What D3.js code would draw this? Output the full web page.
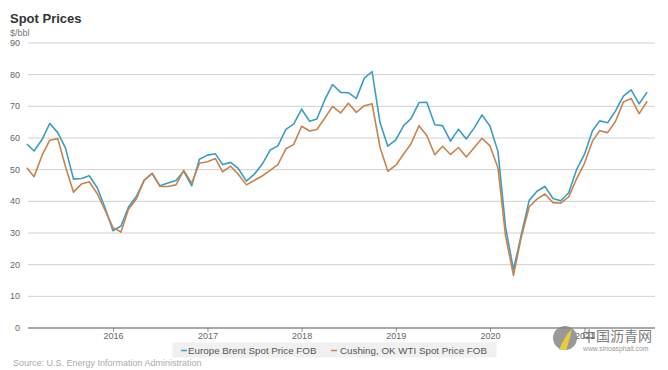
<!DOCTYPE html>
<html><head><meta charset="utf-8">
<script src="https://cdn.jsdelivr.net/npm/d3@7"></script>
<style>body{margin:0;background:#fff;}svg{display:block;font-family:"Liberation Sans",Arial,sans-serif;}</style>
</head><body><svg id="c" width="668" height="370"></svg>
<script>
const startMonth = "2015-02";
const brent = [58.1,55.9,59.5,64.6,61.7,56.8,47.0,47.2,48.1,44.3,38.0,
  30.7,32.2,38.2,41.6,46.7,48.8,44.9,45.8,46.6,49.5,44.9,53.3,
  54.6,55.0,51.6,52.3,50.3,46.4,48.5,51.7,56.2,57.5,62.7,64.4,
  69.1,65.3,66.0,72.1,76.9,74.4,74.3,72.5,78.9,81.0,64.8,57.4,
  59.4,64.0,66.1,71.2,71.3,64.2,63.9,59.0,62.8,59.7,63.2,67.3,
  63.7,55.7,32.0,18.4,29.4,40.3,43.2,44.7,40.9,40.2,42.7,49.9,
  54.8,62.3,65.4,64.8,68.5,73.2,75.2,70.8,74.5];
const wti = [50.6,47.8,54.5,59.3,59.8,50.9,42.9,45.5,46.2,42.4,37.2,
  31.7,30.3,37.5,40.8,46.7,48.8,44.7,44.7,45.2,49.8,45.7,52.0,
  52.5,53.5,49.3,51.1,48.5,45.2,46.6,48.0,49.8,51.6,56.6,57.9,
  63.7,62.2,62.7,66.3,70.0,67.9,71.0,68.1,70.2,70.8,57.0,49.5,
  51.4,55.0,58.2,63.9,60.8,54.7,57.4,54.8,57.0,54.0,57.0,59.9,
  57.5,50.5,29.2,16.6,28.6,38.3,40.7,42.3,39.6,39.4,41.4,47.0,
  52.0,59.0,62.3,61.7,65.2,71.4,72.5,67.7,71.6];
const yTicks = [0,10,20,30,40,50,60,70,80,90];
const xTickYears = [2016,2017,2018,2019,2020,2021];
const seriesNames = ["Europe Brent Spot Price FOB","Cushing, OK WTI Spot Price FOB"];
const seriesColors = ["#3a9ec4","#c8844c"];

const parse = d3.timeParse("%Y-%m");
const t0 = parse(startMonth);
const dates = brent.map((_, i) => d3.timeMonth.offset(t0, i));

const svg = d3.select("#c");
const x = d3.scaleTime().domain([new Date(2016,0,1), new Date(2020,0,1)]).range([113,490]);
const y = d3.scaleLinear().domain([0,90]).range([328,43]);
const gridL = 28, gridR = 655;

// title
svg.append("text").attr("x",10).attr("y",23).attr("font-size",13).attr("font-weight","bold").attr("fill","#333").text("Spot Prices");
svg.append("text").attr("x",10).attr("y",36).attr("font-size",9).attr("fill","#777").text("$/bbl");

// grid
svg.append("g").selectAll("line").data(yTicks.filter(d=>d>0)).join("line")
  .attr("x1",gridL).attr("x2",gridR).attr("y1",d=>y(d)).attr("y2",d=>y(d))
  .attr("stroke","#d0d0d0").attr("stroke-width",1);
svg.append("g").selectAll("text").data(yTicks).join("text")
  .attr("x",20).attr("y",d=>y(d)+3).attr("text-anchor","end").attr("font-size",9).attr("fill","#666").text(d=>d);

// x axis
const xAxis = d3.axisBottom(x).tickValues(xTickYears.map(yr=>new Date(yr,0,1))).tickFormat(d3.timeFormat("%Y")).tickSize(4).tickPadding(1).tickSizeOuter(0);
const gx = svg.append("g").attr("transform","translate(0,328)").call(xAxis);
gx.select(".domain").remove();
gx.selectAll(".tick line").attr("stroke","#999");
gx.selectAll(".tick text").attr("font-size",9).attr("fill","#666").attr("font-family","Liberation Sans, Arial, sans-serif");
svg.append("line").attr("x1",gridL).attr("x2",gridR).attr("y1",y(0)).attr("y2",y(0)).attr("stroke","#555").attr("stroke-width",1.2);

// lines
const line = d3.line().x((d,i)=>x(dates[i])).y(d=>y(d));
[brent, wti].forEach((s, k) => {
  svg.append("path").datum(s).attr("d", line).attr("fill","none")
    .attr("stroke", seriesColors[k]).attr("stroke-width",1.6).attr("stroke-linejoin","round");
});

// legend
svg.append("rect").attr("x",172.5).attr("y",342.5).attr("width",324).attr("height",15).attr("fill","#f0f0f0");
const lg = [{x:181,tx:188},{x:331,tx:340}];
lg.forEach((p,k)=>{
  svg.append("line").attr("x1",p.x).attr("x2",p.x+6).attr("y1",350.5).attr("y2",350.5).attr("stroke",seriesColors[k]).attr("stroke-width",1.5);
  svg.append("text").attr("x",p.tx).attr("y",354).attr("font-size",9.8).attr("fill","#555").text(seriesNames[k]);
});

// source
svg.append("text").attr("x",13).attr("y",366).attr("font-size",9).attr("fill","#aaa").text("Source: U.S. Energy Information Administration");

// watermark
const wm = svg.append("g").attr("opacity",0.85);
wm.append("circle").attr("cx",565).attr("cy",338).attr("r",12).attr("fill","#888");
wm.append("path").attr("d","M559,350 Q565,335 572,329 Q569,342 566,350 Z").attr("fill","#e6c21a");
wm.append("text").attr("x",582).attr("y",341).attr("font-size",14).attr("font-family","Noto Sans CJK SC").attr("fill","#666").text("中国沥青网");
wm.append("text").attr("x",583).attr("y",351).attr("font-size",6.8).attr("fill","#888").text("www.sinoasphalt.com");
</script></body></html>
